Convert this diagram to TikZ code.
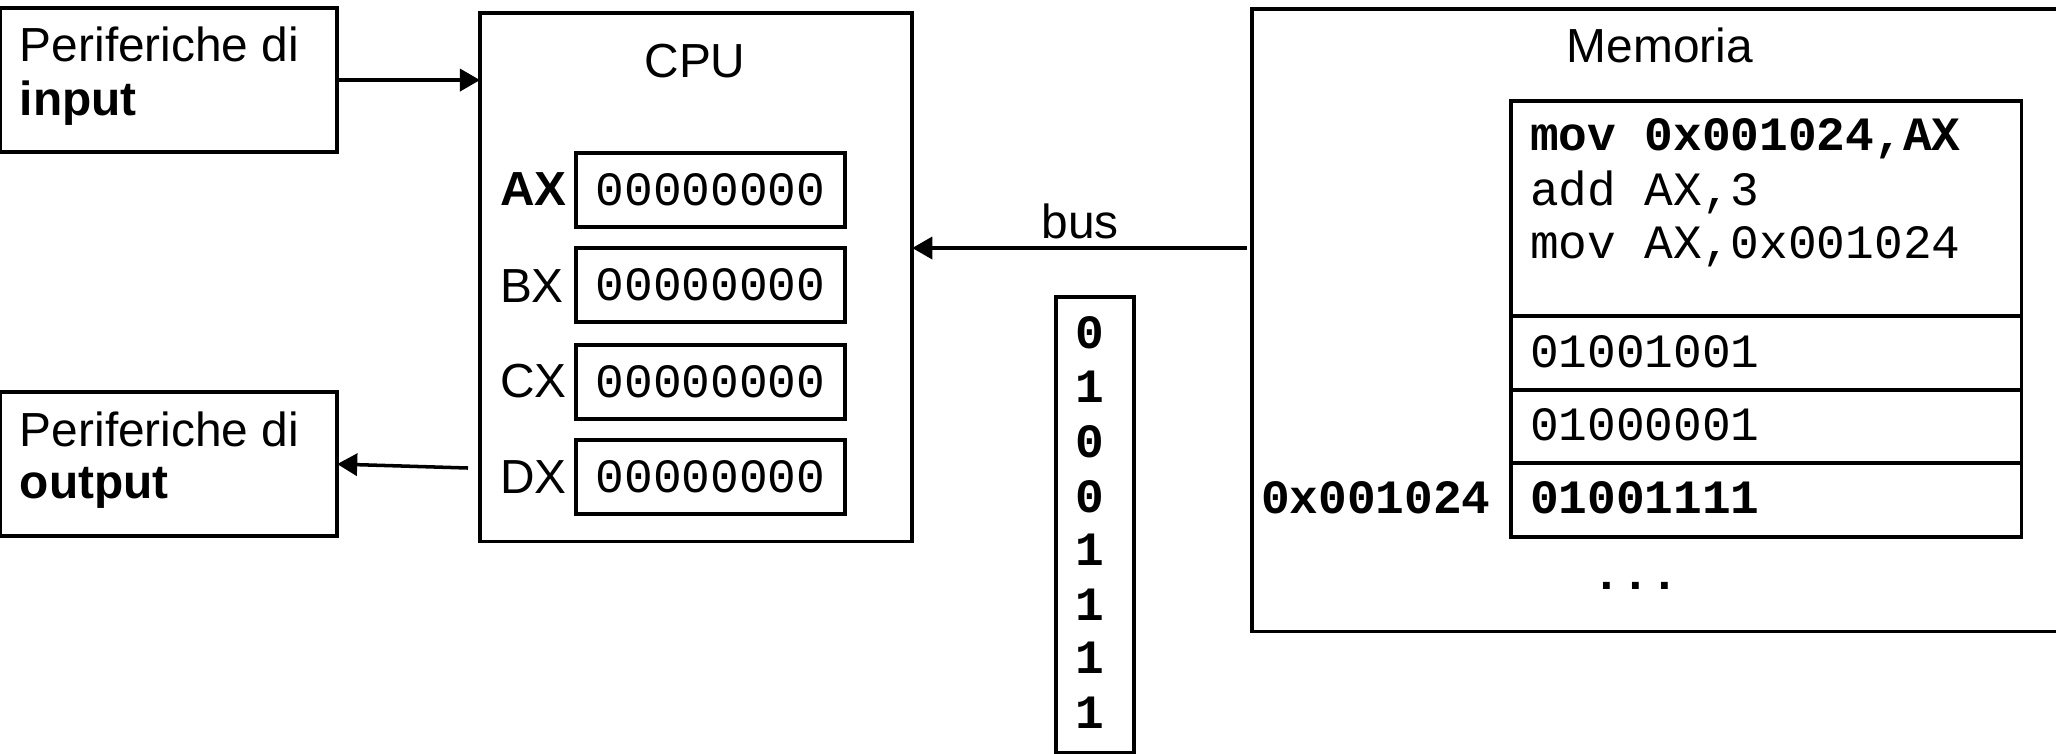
\documentclass[tikz,border=0pt]{standalone}
\usepackage{fontspec}
\setmainfont{Liberation Sans}
\setmonofont{Liberation Mono}
\usetikzlibrary{arrows.meta}
\newcommand\fsz{\fontsize{13.6pt}{15.6pt}\selectfont}
\tikzset{
  box/.style={draw, line width=1pt, inner sep=0pt, outer sep=0pt, anchor=north west},
  txt/.style={inner sep=0pt, outer sep=0pt, anchor=base west, font=\fsz},
  ctxt/.style={inner sep=0pt, outer sep=0pt, anchor=base, font=\fsz},
  mtxt/.style={inner sep=0pt, outer sep=0pt, anchor=base west, font=\fsz\ttfamily},
  bmtxt/.style={inner sep=0pt, outer sep=0pt, anchor=base west, font=\fsz\ttfamily\bfseries},
  reg/.style={box, minimum width=2.69cm, minimum height=0.74cm, font=\fsz\ttfamily},
  arr/.style={line width=1pt, -{Triangle[length=0.2cm, width=0.22cm]}}
}
\begin{document}
\begin{tikzpicture}[x=0.01cm, y=-0.01cm]
\clip (0,0) rectangle (2056,753);
% input / output
\node[box, minimum width=3.37cm, minimum height=1.44cm] (inp) at (0,8) {};
\node[txt] (inpA) at (20,61) {Periferiche di};
\node[txt] (inpB) at (20,115) {\textbf{input}};
\node[box, minimum width=3.37cm, minimum height=1.44cm] (out) at (0,392) {};
\node[txt] (outA) at (20,446) {Periferiche di};
\node[txt] (outB) at (20,498) {\textbf{output}};
% CPU
\node[box, minimum width=4.32cm, minimum height=5.28cm] (cpu) at (480,13) {};
\node[ctxt] (cpuT) at (695,77) {CPU};
\node[reg] (ax) at (576,153) {00000000};
\node[reg] (bx) at (576,248) {00000000};
\node[reg] (cx) at (576,345) {00000000};
\node[reg] (dx) at (576,440) {00000000};
\node[txt] (axl) at (500,205) {\textbf{AX}};
\node[txt] (bxl) at (500,302) {BX};
\node[txt] (cxl) at (500,397) {CX};
\node[txt] (dxl) at (500,493) {DX};
% Memory
\node[box, minimum width=8.30cm, minimum height=6.22cm] (mem) at (1252,9) {};
\node[ctxt] (memT) at (1660,62) {Memoria};
\node[box, minimum width=5.10cm, minimum height=2.15cm] (code) at (1511,101) {};
\node[box, minimum width=5.10cm, minimum height=0.74cm] (r1) at (1511,316) {};
\node[box, minimum width=5.10cm, minimum height=0.73cm] (r2) at (1511,390) {};
\node[box, minimum width=5.10cm, minimum height=0.74cm] (r3) at (1511,463) {};
\node[bmtxt] (c1) at (1530,150) {mov 0x001024,AX};
\node[mtxt] (c2) at (1530,205) {add AX,3};
\node[mtxt] (c3) at (1530,258) {mov AX,0x001024};
\node[mtxt] (t1) at (1530,367) {01001001};
\node[mtxt] (t2) at (1530,440) {01000001};
\node[bmtxt] (t3) at (1530,513) {01001111};
\node[bmtxt] (addr) at (1261,513) {0x001024};
\node[inner sep=0pt, anchor=base, font=\fsz\ttfamily\bfseries] (dots) at (1636,589) {...};
% bus
\coordinate (busA) at (1247,248);
\draw[arr] (busA) -- (busA -| cpu.east);
\node[ctxt] (busT) at (1080,238) {bus};
\node[box, minimum width=0.78cm, minimum height=4.55cm] (bits) at (1056,297) {};
\foreach \b/\y [count=\i] in {0/348,1/402,0/457,0/512,1/565,1/620,1/673,1/728}
  \node[inner sep=0pt, anchor=base, font=\fsz\ttfamily\bfseries] (bit\i) at (1090,\y) {\b};
% arrows
\draw[arr] (inp.east) -- (inp.east -| cpu.west);
\coordinate (dxsrc) at (468,468);
\draw[arr] (dxsrc) -- (out.east);
\end{tikzpicture}
\end{document}
